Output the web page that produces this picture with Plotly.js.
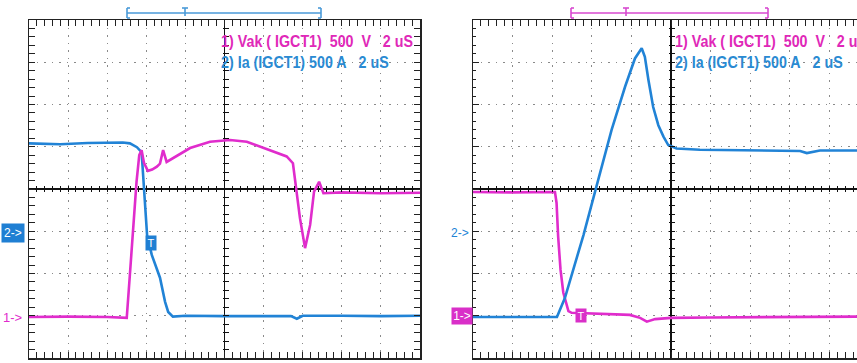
<!DOCTYPE html>
<html>
<head>
<meta charset="utf-8">
<script src="https://cdn.plot.ly/plotly-3.0.1.min.js"></script>
<style>html,body{margin:0;padding:0;background:#fff;}#plot{width:857px;height:363px;}</style>
</head>
<body>
<div id="plot"></div>
<script>
// ---- Data (time in divisions of 2 uS, amplitude in divisions) ----
// Left capture: turn-off
const leftIaTime = [-5, -4.2, -3.5, -3.0, -2.6, -2.42, -2.24, -2.12, -2.08, -2.03, -1.98, -1.86, -1.65, -1.52, -1.44, -1.32, -1.0, 0, 1.0, 1.7, 1.85, 2.0, 3.0, 4.0, 5];
const leftIa     = [1.08, 1.06, 1.09, 1.10, 1.10, 1.08, 0.99, 0.87, 0.33, -0.45, -1.09, -1.56, -2.10, -2.67, -2.91, -3.02, -3.00, -3.01, -3.00, -3.01, -3.07, -3.00, -3.00, -3.01, -3.00];
const leftVakTime = [-5, -4.0, -3.0, -2.6, -2.50, -2.42, -2.33, -2.25, -2.18, -2.12, -2.06, -1.96, -1.85, -1.73, -1.65, -1.57, -1.48, -1.39, -0.88, -0.37, 0.14, 0.57, 1.16, 1.59, 1.75, 1.85, 1.93, 2.06, 2.19, 2.29, 2.42, 2.53, 3.0, 4.0, 5];
const leftVak     = [-3.03, -3.02, -3.03, -3.04, -3.05, -2.03, -0.85, 0.17, 0.80, 0.92, 0.62, 0.43, 0.46, 0.53, 0.60, 0.92, 0.64, 0.69, 0.97, 1.12, 1.16, 1.12, 0.92, 0.77, 0.61, -0.06, -0.69, -1.40, -0.85, -0.06, 0.17, -0.10, -0.08, -0.10, -0.09];

// Right capture: turn-on
const rightVakTime = [-5, -4.0, -2.93, -2.89, -2.85, -2.79, -2.72, -2.65, -2.59, -2.51, -1.79, -1.04, -0.78, -0.61, -0.40, 0, 1.0, 2.25, 3.5, 4.7];
const rightVak     = [-0.07, -0.08, -0.07, -0.33, -1.12, -1.91, -2.45, -2.69, -2.89, -2.93, -2.96, -2.98, -3.05, -3.14, -3.08, -3.05, -3.04, -3.03, -3.02, -3.02];
const rightIaTime = [-5, -4.0, -2.88, -2.68, -2.21, -1.84, -1.50, -1.16, -0.91, -0.74, -0.66, -0.57, -0.45, -0.32, -0.19, -0.07, 0.14, 0.73, 2.0, 3.26, 3.43, 3.76, 4.7];
const rightIa     = [-3.03, -3.03, -3.03, -2.58, -1.09, 0.21, 1.40, 2.42, 3.09, 3.33, 3.13, 2.58, 1.94, 1.51, 1.24, 1.04, 0.96, 0.93, 0.91, 0.90, 0.85, 0.91, 0.91];

const labelVak = "1) Vak ( IGCT1)\u00A0 500\u00A0 V\u00A0\u00A0 2 uS";
const labelIa  = "2) Ia (IGCT1) 500 A\u00A0\u00A0 2 uS";

// ---- Styling ----
const MAG = "#e02ccc", BLUE = "#2183d6";
const TXT_MAG = "#e028b8", TXT_BLUE = "#2a8ad2";
const W = 857, H = 363;
const px = v => v / W, py = v => 1 - v / H;

const L = {x0: 29, x1: 420, xc: 224.5};
const R = {x0: 473, xc: 671};
const yTop = 20, yBot = 358, yC = 189;
const yDom = [py(yBot), py(yTop)];

function frameAxis(extra) {
  return Object.assign({
    showgrid: true, gridcolor: "#8a8a8a", gridwidth: 1, griddash: "1.5px,6px",
    tickmode: "linear", tick0: 0, dtick: 1,
    zeroline: true, zerolinecolor: "#111", zerolinewidth: 1.5,
    showline: true, linecolor: "#222", linewidth: 1.5,
    ticks: "inside", ticklen: 6, tickwidth: 1, tickcolor: "#222",
    showticklabels: false, fixedrange: true,
    minor: {tickmode: "linear", dtick: 0.2, ticks: "inside", ticklen: 3, tickwidth: 1, tickcolor: "#222", showgrid: false}
  }, extra);
}
function crossAxis(extra) {
  return Object.assign({
    anchor: "free", showgrid: false, zeroline: false, showline: false,
    tickmode: "linear", tick0: 0, dtick: 0.2, ticks: "inside", ticklen: 6,
    tickwidth: 1, tickcolor: "#111", showticklabels: false, fixedrange: true
  }, extra);
}

const traces = [
  {x: leftIaTime, y: leftIa, xaxis: "x", yaxis: "y", mode: "lines", line: {color: BLUE, width: 2.6}},
  {x: leftVakTime, y: leftVak, xaxis: "x", yaxis: "y", mode: "lines", line: {color: MAG, width: 2.6}},
  {x: rightVakTime, y: rightVak, xaxis: "x2", yaxis: "y2", mode: "lines", line: {color: MAG, width: 2.6}},
  {x: rightIaTime, y: rightIa, xaxis: "x2", yaxis: "y2", mode: "lines", line: {color: BLUE, width: 2.6}},
  {x: [], y: [], xaxis: "x3", yaxis: "y", showlegend: false, hoverinfo: "skip"},
  {x: [], y: [], xaxis: "x", yaxis: "y3", showlegend: false, hoverinfo: "skip"},
  {x: [], y: [], xaxis: "x4", yaxis: "y2", showlegend: false, hoverinfo: "skip"},
  {x: [], y: [], xaxis: "x2", yaxis: "y4", showlegend: false, hoverinfo: "skip"}
];

const labelFont = {family: "'Liberation Sans', Arial, sans-serif", size: 17, weight: "bold"};
const smallFont = {family: "'Liberation Sans', Arial, sans-serif", size: 11};

function bracket(x0, x1, xt, color) {
  const y = 13, s = [];
  const ln = (a, b, c, d) => s.push({type: "line", xref: "paper", yref: "paper", x0: px(a), x1: px(c), y0: py(b), y1: py(d), line: {color: color, width: 1.6}});
  ln(x0, y, x1, y);
  ln(x0, y - 5, x0, y + 5); ln(x0, y - 5, x0 + 3, y - 5); ln(x0, y + 5, x0 + 3, y + 5);
  ln(x1, y - 5, x1, y + 5); ln(x1, y - 5, x1 - 3, y - 5); ln(x1, y + 5, x1 - 3, y + 5);
  ln(xt, y - 5, xt, y + 3); ln(xt - 3, y - 5, xt + 3, y - 5);
  return s;
}

const layout = {
  width: W, height: H, margin: {l: 0, r: 0, t: 0, b: 0},
  paper_bgcolor: "#fff", plot_bgcolor: "#fff", showlegend: false,
  xaxis: frameAxis({domain: [px(L.x0), px(L.x1)], range: [-5, 5], anchor: "y", mirror: "allticks"}),
  yaxis: frameAxis({domain: yDom, range: [-4, 4], anchor: "x", mirror: "allticks"}),
  xaxis2: frameAxis({domain: [px(R.x0), 1], range: [-5, (W - R.xc) / 39.6], anchor: "y2", mirror: "allticks"}),
  yaxis2: frameAxis({domain: yDom, range: [-4, 4], anchor: "x2", mirror: false}),
  xaxis3: crossAxis({overlaying: "x", range: [-5, 5], side: "bottom", position: py(yC + 3)}),
  yaxis3: crossAxis({overlaying: "y", range: [-4, 4], side: "left", position: px(L.xc - 3)}),
  xaxis4: crossAxis({overlaying: "x2", range: [-5, (W - R.xc) / 39.6], side: "bottom", position: py(yC + 3)}),
  yaxis4: crossAxis({overlaying: "y2", range: [-4, 4], side: "left", position: px(R.xc - 3)}),
  shapes: [].concat(bracket(127, 321, 185, "#4a9ad8"), bracket(571, 768, 626, "#d84ad0")),
  annotations: [
    {xref: "paper", yref: "paper", x: px(219), y: py(41), xanchor: "left", yanchor: "middle", showarrow: false, text: labelVak, font: Object.assign({}, labelFont, {color: TXT_MAG})},
    {xref: "paper", yref: "paper", x: px(219), y: py(63), xanchor: "left", yanchor: "middle", showarrow: false, text: labelIa, font: Object.assign({}, labelFont, {color: TXT_BLUE})},
    {xref: "paper", yref: "paper", x: px(673), y: py(41), xanchor: "left", yanchor: "middle", showarrow: false, text: labelVak, font: Object.assign({}, labelFont, {color: TXT_MAG})},
    {xref: "paper", yref: "paper", x: px(673), y: py(63), xanchor: "left", yanchor: "middle", showarrow: false, text: labelIa, font: Object.assign({}, labelFont, {color: TXT_BLUE})},
    // channel markers
    {xref: "paper", yref: "paper", x: px(1), y: py(232.5), xanchor: "left", yanchor: "middle", showarrow: false, text: "2->", bgcolor: "#1f7fd3", borderpad: 2, font: Object.assign({}, smallFont, {size: 12, color: "#fff"})},
    {xref: "paper", yref: "paper", x: px(1), y: py(317), xanchor: "left", yanchor: "middle", showarrow: false, text: "1->", font: Object.assign({}, smallFont, {size: 13, color: MAG})},
    {xref: "paper", yref: "paper", x: px(471), y: py(232.5), xanchor: "right", yanchor: "middle", showarrow: false, text: "2->", font: Object.assign({}, smallFont, {size: 12, color: BLUE})},
    {xref: "paper", yref: "paper", x: px(473), y: py(316), xanchor: "right", yanchor: "middle", showarrow: false, text: "1->", bgcolor: "#d92fc8", width: 20, height: 16, borderpad: 0, font: Object.assign({}, smallFont, {size: 12, color: "#fff"})},
    // trigger markers
    {xref: "paper", yref: "paper", x: px(151), y: py(243), xanchor: "center", yanchor: "middle", showarrow: false, text: "T", bgcolor: "#1f7fd3", width: 10, height: 14, borderpad: 0, font: Object.assign({}, smallFont, {color: "#fff"})},
    {xref: "paper", yref: "paper", x: px(581), y: py(315.5), xanchor: "center", yanchor: "middle", showarrow: false, text: "T", bgcolor: "#d92fc8", width: 10, height: 13, borderpad: 0, font: Object.assign({}, smallFont, {color: "#fff"})}
  ]
};

Plotly.newPlot("plot", traces, layout, {staticPlot: true, displayModeBar: false}).then(function (gd) {
  // narrow the channel labels like the scope's condensed font
  gd.querySelectorAll(".annotation-text").forEach(function (t) {
    const s = t.textContent;
    if (s.indexOf("1) ") === 0 || s.indexOf("2) ") === 0) {
      t.style.transformBox = "fill-box";
      t.style.transformOrigin = "left center";
      t.style.transform = "scaleX(0.84)";
    }
  });
});
</script>
</body>
</html>
